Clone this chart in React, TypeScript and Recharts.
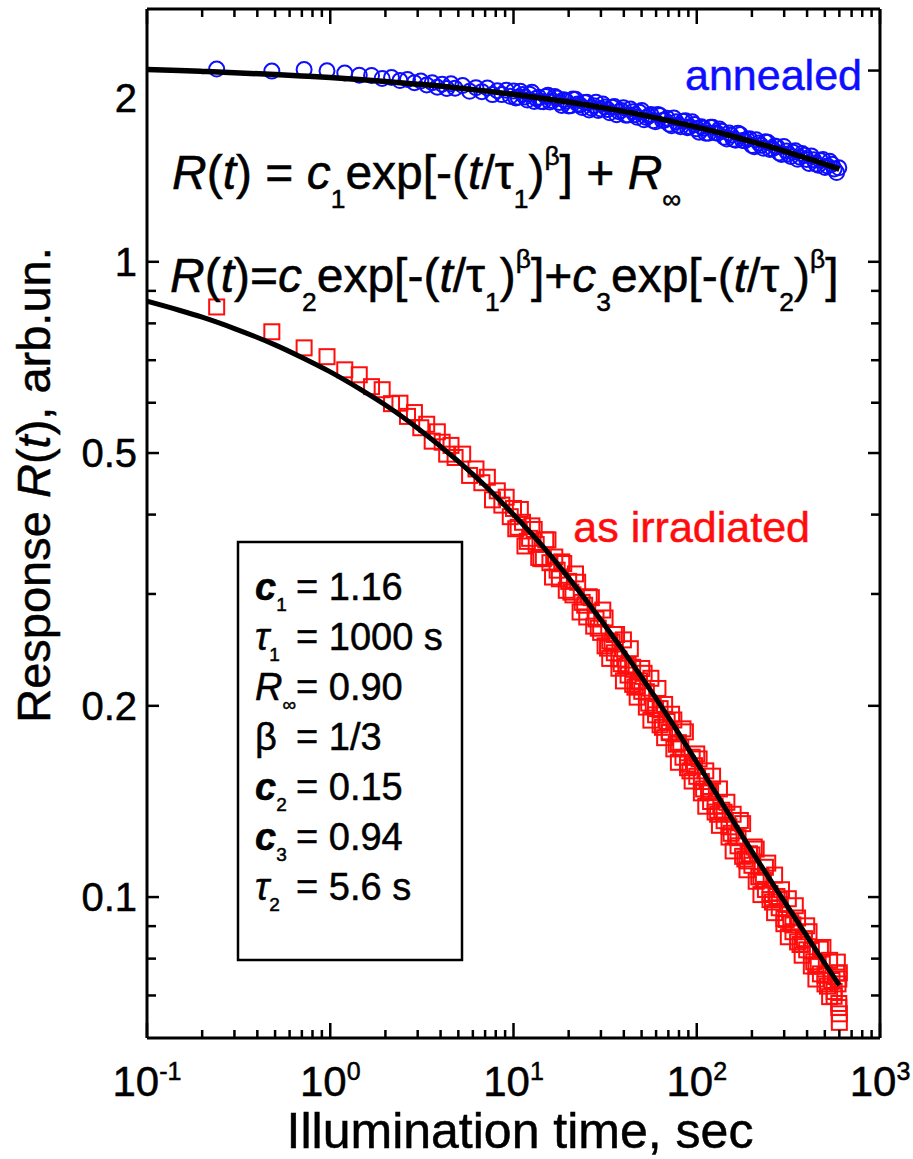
import { ComposedChart, Line, Scatter, XAxis, YAxis } from "recharts";

// sampling times of the measured points (s)
const sampleTimes = [
  0.24, 0.48, 0.72, 0.96, 1.2, 1.44, 1.68, 1.92, 2.16, 2.4, 2.64, 2.88, 3.12, 3.36, 3.6, 3.84, 4.08, 4.32, 4.56, 4.8,
  5.28, 5.76, 6.24, 6.72, 7.2, 7.68, 8.16, 8.64, 9.12, 9.6,
  10, 10.6, 11.2, 11.9, 12.6, 13.3, 14.1, 15.0, 15.8, 16.8, 17.8, 18.8, 20.0, 21.1, 22.4, 23.7, 25.1, 26.6, 28.2, 29.9,
  31.6, 33.5, 35.5, 37.6, 39.8, 42.2, 44.7, 47.3, 50.1, 53.1, 56.2, 59.6, 63.1, 66.8, 70.8, 75.0, 79.4, 84.1, 89.1, 94.4,
  100, 106, 112, 119, 126, 133, 141, 150, 158, 168, 178, 188, 200, 211, 224, 237, 251, 266, 282, 299,
  316, 335, 355, 376, 398, 422, 447, 473, 501, 531, 562, 596,
];

const annealedR = [
  2.011, 1.996, 2.007, 1.998, 1.982, 1.967, 1.965, 1.944, 1.95, 1.929, 1.937, 1.914, 1.925, 1.898, 1.914, 1.883, 1.903, 1.874, 1.906, 1.876,
  1.894, 1.855, 1.88, 1.853, 1.878, 1.833, 1.859, 1.833, 1.863, 1.822,
  1.857, 1.816, 1.834, 1.797, 1.848, 1.808, 1.788, 1.82, 1.784, 1.82, 1.782, 1.8, 1.759, 1.804, 1.771, 1.749, 1.783, 1.746, 1.783, 1.74,
  1.752, 1.716, 1.755, 1.722, 1.748, 1.702, 1.723, 1.688, 1.73, 1.687, 1.705, 1.661, 1.699, 1.67, 1.647, 1.684, 1.641, 1.664, 1.626, 1.661,
  1.619, 1.632, 1.593, 1.628, 1.596, 1.618, 1.57, 1.595, 1.559, 1.593, 1.552, 1.559, 1.524, 1.557, 1.525, 1.545, 1.502, 1.521, 1.484, 1.519,
  1.478, 1.488, 1.45, 1.481, 1.449, 1.468, 1.426, 1.443, 1.408, 1.44, 1.4, 1.406,
];

const irradiatedR = [
  0.849, 0.776, 0.732, 0.709, 0.676, 0.664, 0.636, 0.629, 0.598, 0.599, 0.571, 0.579, 0.548, 0.555, 0.522, 0.54, 0.52, 0.498, 0.514, 0.492,
  0.498, 0.461, 0.472, 0.449, 0.458, 0.422, 0.436, 0.414, 0.426, 0.397,
  0.409, 0.382, 0.389, 0.363, 0.384, 0.359, 0.341, 0.365, 0.336, 0.343, 0.317, 0.335, 0.314, 0.299, 0.313, 0.291, 0.276, 0.296, 0.274, 0.261,
  0.275, 0.253, 0.259, 0.237, 0.254, 0.232, 0.23, 0.215, 0.229, 0.2105, 0.221, 0.198, 0.198, 0.201, 0.182, 0.19, 0.175, 0.184, 0.162, 0.166,
  0.168, 0.152, 0.158, 0.147, 0.139, 0.148, 0.136, 0.129, 0.135, 0.124, 0.1305, 0.114, 0.1165, 0.119, 0.1077, 0.1114, 0.1013, 0.1083, 0.099, 0.0925,
  0.0994, 0.0904, 0.0927, 0.0843, 0.0901, 0.0824, 0.0778, 0.0828, 0.0753, 0.0795, 0.0698, 0.0743,
];

// points read in between the ones above (dense part of the run)
const midTimes = [
  10.29, 10.9, 11.55, 12.24, 12.97, 13.73, 14.55, 15.42, 16.33, 17.3, 18.33, 19.41, 20.57, 21.79, 23.08, 24.46, 25.9, 27.4, 29.0, 30.7,
  32.6, 34.5, 36.5, 38.7, 41.0, 43.4, 46.0, 48.7, 51.6, 54.7, 57.9, 61.4, 65.0, 68.9, 72.9, 77.3, 81.8, 86.7, 91.8, 97.2,
  103, 109, 116, 122, 130, 137, 146, 154, 163, 173, 183, 194, 206, 218, 231, 244, 259, 274, 290, 308,
  326, 345, 366, 387, 410, 435, 460, 488, 517, 547, 580,
];
const annealedMidR = [
  1.811, 1.855, 1.818, 1.836, 1.788, 1.816, 1.786, 1.829, 1.793, 1.81, 1.762, 1.79, 1.76, 1.802, 1.765, 1.782, 1.734, 1.761, 1.731, 1.772,
  1.736, 1.751, 1.704, 1.73, 1.701, 1.74, 1.704, 1.719, 1.673, 1.697, 1.668, 1.706, 1.669, 1.683, 1.637, 1.661, 1.631, 1.668, 1.632, 1.645,
  1.6, 1.622, 1.593, 1.628, 1.593, 1.605, 1.56, 1.582, 1.553, 1.586, 1.551, 1.562, 1.518, 1.538, 1.509, 1.542, 1.507, 1.518, 1.475, 1.494,
  1.465, 1.496, 1.461, 1.471, 1.428, 1.447, 1.419, 1.449, 1.415, 1.424, 1.382,
];
const irradiatedMidR = [
  0.38, 0.4075, 0.357, 0.367, 0.379, 0.3425, 0.341, 0.365, 0.319, 0.327, 0.337, 0.304, 0.302, 0.3226, 0.281, 0.288, 0.297, 0.267, 0.265, 0.283,
  0.2465, 0.252, 0.259, 0.233, 0.231, 0.246, 0.214, 0.219, 0.225, 0.202, 0.2, 0.213, 0.185, 0.189, 0.194, 0.174, 0.172, 0.182, 0.158, 0.161,
  0.165, 0.148, 0.146, 0.155, 0.135, 0.137, 0.141, 0.126, 0.1245, 0.132, 0.1148, 0.117, 0.1199, 0.1076, 0.1063, 0.1131, 0.0982, 0.1002, 0.1027, 0.0922,
  0.0911, 0.0969, 0.0842, 0.086, 0.0882, 0.0791, 0.0782, 0.0833, 0.0724, 0.0739, 0.0759,
];

// lower edge of the as-irradiated band (t > 30 s)
const lowTimes = [
  31.6, 33.5, 35.5, 37.6, 39.8, 42.2, 44.7, 47.3, 50.1, 53.1, 56.2, 59.6, 63.1, 66.8, 70.8, 75.0, 79.4, 84.1, 89.1, 94.4,
  100, 106, 112, 119, 126, 133, 141, 150, 158, 168, 178, 188, 200, 211, 224, 237, 251, 266, 282, 299,
  316, 335, 355, 376, 398, 422, 447, 473, 501, 531, 562, 596,
];
const irradiatedLowR = [
  0.2486, 0.2375, 0.2424, 0.2292, 0.2189, 0.2236, 0.2162, 0.2064, 0.2108, 0.1991, 0.1899, 0.1936, 0.1867, 0.1782, 0.1815, 0.1711, 0.163, 0.166, 0.1598, 0.1523,
  0.1549, 0.1459, 0.139, 0.1414, 0.1361, 0.1297, 0.1319, 0.1243, 0.1182, 0.1204, 0.1159, 0.1104, 0.1122, 0.1059, 0.1009, 0.1028, 0.0991, 0.0945, 0.0962, 0.0908,
  0.0866, 0.0882, 0.085, 0.081, 0.0826, 0.0779, 0.0743, 0.0757, 0.073, 0.0697, 0.071, 0.067,
];

// last few points, stacked at the end of the run
const irradiatedTailTimes = [585, 590, 596, 600, 600, 600];
const irradiatedTailR = [0.079, 0.073, 0.068, 0.0655, 0.0635, 0.076];

// fitted curves
const fitTimes = [0.1, 0.15, 0.2, 0.3, 0.5, 0.7, 1, 1.5, 2, 3, 5, 7, 10, 15, 20, 30, 50, 70, 100, 150, 200, 300, 400, 500, 600];
const annealedFit = [
  2.007, 2.0, 1.994, 1.985, 1.971, 1.961, 1.95, 1.935, 1.923, 1.904, 1.878, 1.858, 1.835, 1.806, 1.784, 1.75, 1.703, 1.668, 1.629,
  1.582, 1.546, 1.494, 1.455, 1.425, 1.399,
];
const irradiatedFit = [
  0.867, 0.839, 0.818, 0.785, 0.74, 0.707, 0.671, 0.627, 0.595, 0.547, 0.485, 0.444, 0.4, 0.352, 0.318, 0.273, 0.222, 0.192, 0.163,
  0.135, 0.118, 0.0985, 0.0867, 0.0786, 0.0727,
];

const xTicks = [
  0.1, 0.2, 0.3, 0.4, 0.5, 0.6, 0.7, 0.8, 0.9, 1, 2, 3, 4, 5, 6, 7, 8, 9, 10, 20, 30, 40, 50, 60, 70, 80, 90,
  100, 200, 300, 400, 500, 600, 700, 800, 900, 1000,
];
const xDecades = [0.1, 1, 10, 100, 1000];
const xExponents = ["-1", "0", "1", "2", "3"];
const yTicks = [0.07, 0.08, 0.09, 0.1, 0.2, 0.3, 0.4, 0.5, 0.6, 0.7, 0.8, 0.9, 1, 2];
const yLabels = [0.1, 0.2, 0.5, 1, 2];

const FONT = "'Liberation Sans', Arial, Helvetica, sans-serif";
const BLUE = "#0d0dff";
const RED = "#ff0d0d";
const TXT = { stroke: "#000", strokeWidth: 0.5 };

const annealedPts = [
  ...sampleTimes.map((t, i) => ({ t, r: annealedR[i] })),
  ...midTimes.map((t, i) => ({ t, r: annealedMidR[i] })),
];
const irradiatedPts = [
  ...sampleTimes.map((t, i) => ({ t, r: irradiatedR[i] })),
  ...midTimes.map((t, i) => ({ t, r: irradiatedMidR[i] })),
  ...lowTimes.map((t, i) => ({ t, r: irradiatedLowR[i] })),
  ...irradiatedTailTimes.map((t, i) => ({ t, r: irradiatedTailR[i] })),
];
const annealedLine = fitTimes.map((t, i) => ({ t, r: annealedFit[i] }));
const irradiatedLine = fitTimes.map((t, i) => ({ t, r: irradiatedFit[i] }));

const axisLine = { stroke: "#000", strokeWidth: 3 };

function BottomTick(p: any) {
  const v = p.payload.value;
  const k = xDecades.indexOf(v);
  return (
    <g>
      <line x1={p.x} x2={p.x} y1={p.y} y2={p.y - (k >= 0 ? 15 : 8)} stroke="#000" strokeWidth={2.5} />
      {k >= 0 && (
        <text x={p.x} y={p.y + 58} textAnchor="middle" fontSize={42} fontFamily={FONT} fill="#000" {...TXT}>
          10
          <tspan dy={-16} fontSize={25}>{xExponents[k]}</tspan>
        </text>
      )}
    </g>
  );
}

function TopTick(p: any) {
  const major = xDecades.includes(p.payload.value);
  return <line x1={p.x} x2={p.x} y1={p.y} y2={p.y + (major ? 15 : 8)} stroke="#000" strokeWidth={2.5} />;
}

function LeftTick(p: any) {
  const v = p.payload.value;
  const lab = yLabels.includes(v);
  return (
    <g>
      <line x1={p.x} x2={p.x + (lab ? 12 : 9)} y1={p.y} y2={p.y} stroke="#000" strokeWidth={2.5} />
      {lab && (
        <text x={p.x - 10} y={p.y + (v === 2 ? 27 : 0)} textAnchor="end" dominantBaseline="central" fontSize={40} fontFamily={FONT} fill="#000" {...TXT}>
          {String(v)}
        </text>
      )}
    </g>
  );
}

function RightTick(p: any) {
  const lab = yLabels.includes(p.payload.value);
  return <line x1={p.x} x2={p.x - (lab ? 12 : 9)} y1={p.y} y2={p.y} stroke="#000" strokeWidth={2.5} />;
}

type Seg = { s: string; i?: boolean; b?: boolean; sub?: boolean; sup?: boolean; x?: number };

function Rich({ x, y, size, segs, subShift = 0.4, subSize = 0.55 }: { x: number; y: number; size: number; segs: Seg[]; subShift?: number; subSize?: number }) {
  let cur = 0;
  return (
    <text x={x} y={y} fontSize={size} fontFamily={FONT} fill="#000" {...TXT}>
      {segs.map((g, k) => {
        const target = g.sub ? size * subShift : g.sup ? -size * 0.5 : 0;
        const dy = target - cur;
        cur = target;
        return (
          <tspan
            key={k}
            x={g.x}
            dy={dy}
            fontSize={g.sub || g.sup ? size * subSize : size}
            fontStyle={g.i ? "italic" : "normal"}
            fontWeight={g.b ? "bold" : "normal"}
          >
            {g.s}
          </tspan>
        );
      })}
    </text>
  );
}

const eq1: Seg[] = [
  { s: "R", i: true }, { s: "(" }, { s: "t", i: true }, { s: ") = " }, { s: "c", i: true }, { s: "1", sub: true },
  { s: "exp[-(" }, { s: "t", i: true }, { s: "/τ" }, { s: "1", sub: true }, { s: ")" }, { s: "β", sup: true },
  { s: "] + " }, { s: "R", i: true }, { s: "∞", sub: true },
];

const eq2: Seg[] = [
  { s: "R", i: true }, { s: "(" }, { s: "t", i: true }, { s: ")=" }, { s: "c", i: true }, { s: "2", sub: true },
  { s: "exp[-(" }, { s: "t", i: true }, { s: "/τ" }, { s: "1", sub: true }, { s: ")" }, { s: "β", sup: true },
  { s: "]+" }, { s: "c", i: true }, { s: "3", sub: true },
  { s: "exp[-(" }, { s: "t", i: true }, { s: "/τ" }, { s: "2", sub: true }, { s: ")" }, { s: "β", sup: true }, { s: "]" },
];

const paramNames: Seg[][] = [
  [{ s: "c", i: true, b: true }, { s: "1", sub: true }],
  [{ s: "τ", i: true }, { s: "1", sub: true }],
  [{ s: "R", i: true }, { s: "∞", sub: true }],
  [{ s: "β" }],
  [{ s: "c", i: true, b: true }, { s: "2", sub: true }],
  [{ s: "c", i: true, b: true }, { s: "3", sub: true }],
  [{ s: "τ", i: true }, { s: "2", sub: true }],
];
const paramValues = ["= 1.16", "= 1000 s", "= 0.90", "= 1/3", "= 0.15", "= 0.94", "= 5.6 s"];

export default function App() {
  return (
    <div style={{ position: "absolute", left: 0, top: 0, width: 913, height: 1159, background: "#fff" }}>
      <ComposedChart width={913} height={1159} margin={{ top: 8, right: 32, bottom: 120, left: 146 }}>
        <XAxis
          xAxisId="b" dataKey="t" type="number" scale="log" domain={[0.1, 1000]} allowDataOverflow
          ticks={xTicks} interval={0} orientation="bottom" height={1} tickSize={0} tickMargin={0}
          tickLine={false} axisLine={axisLine} tick={BottomTick}
        />
        <XAxis
          xAxisId="t" dataKey="t" type="number" scale="log" domain={[0.1, 1000]} allowDataOverflow
          ticks={xTicks} interval={0} orientation="top" height={1} tickSize={0} tickMargin={0}
          tickLine={false} axisLine={axisLine} tick={TopTick}
        />
        <YAxis
          yAxisId="l" dataKey="r" type="number" scale="log" domain={[0.06, 2.5]} allowDataOverflow
          ticks={yTicks} interval={0} orientation="left" width={1} tickSize={0} tickMargin={0}
          tickLine={false} axisLine={axisLine} tick={LeftTick}
        />
        <YAxis
          yAxisId="r" dataKey="r" type="number" scale="log" domain={[0.06, 2.5]} allowDataOverflow
          ticks={yTicks} interval={0} orientation="right" width={1} tickSize={0} tickMargin={0}
          tickLine={false} axisLine={axisLine} tick={RightTick}
        />
        <Scatter
          xAxisId="b" yAxisId="l" data={annealedPts} dataKey="r" isAnimationActive={false}
          shape={(p: any) => <circle cx={p.cx} cy={p.cy} r={7.5} fill="none" stroke={BLUE} strokeWidth={2} />}
        />
        <Scatter
          xAxisId="b" yAxisId="l" data={irradiatedPts} dataKey="r" isAnimationActive={false}
          shape={(p: any) => <rect x={p.cx - 7.5} y={p.cy - 7.5} width={15} height={15} fill="none" stroke={RED} strokeWidth={2} />}
        />
        <Line
          xAxisId="b" yAxisId="l" data={annealedLine} dataKey="r" type="monotone" stroke="#000" strokeWidth={5.5}
          dot={false} isAnimationActive={false} zIndex={700}
        />
        <Line
          xAxisId="b" yAxisId="l" data={irradiatedLine} dataKey="r" type="monotone" stroke="#000" strokeWidth={5}
          dot={false} isAnimationActive={false} zIndex={700}
        />
      </ComposedChart>
      <svg width={913} height={1159} style={{ position: "absolute", left: 0, top: 0, pointerEvents: "none" }}>
        <Rich x={172} y={189} size={48} segs={eq1} />
        <Rich x={170} y={292} size={48} segs={eq2} />
        <text x={685} y={90} fontSize={43} fontFamily={FONT} fill={BLUE} stroke={BLUE} strokeWidth={0.5}>annealed</text>
        <text x={810} y={542} fontSize={43} fontFamily={FONT} fill={RED} stroke={RED} strokeWidth={0.5} textAnchor="end">as irradiated</text>
        <rect x={238} y={542} width={224} height={418} fill="none" stroke="#000" strokeWidth={2.5} />
        {paramNames.map((segs, k) => (
          <Rich
            key={k} x={255} y={600 + k * 50} size={38} subShift={0.3} subSize={0.5}
            segs={[...segs, { s: paramValues[k], x: 296 }]}
          />
        ))}
        <text transform="translate(50,485) rotate(-90)" textAnchor="middle" fontSize={47} fontFamily={FONT} fill="#000" {...TXT}>
          Response <tspan fontStyle="italic">R</tspan>(<tspan fontStyle="italic">t</tspan>), arb.un.
        </text>
        <text x={520} y={1148} textAnchor="middle" fontSize={50} fontFamily={FONT} fill="#000" {...TXT}>Illumination time, sec</text>
      </svg>
    </div>
  );
}
